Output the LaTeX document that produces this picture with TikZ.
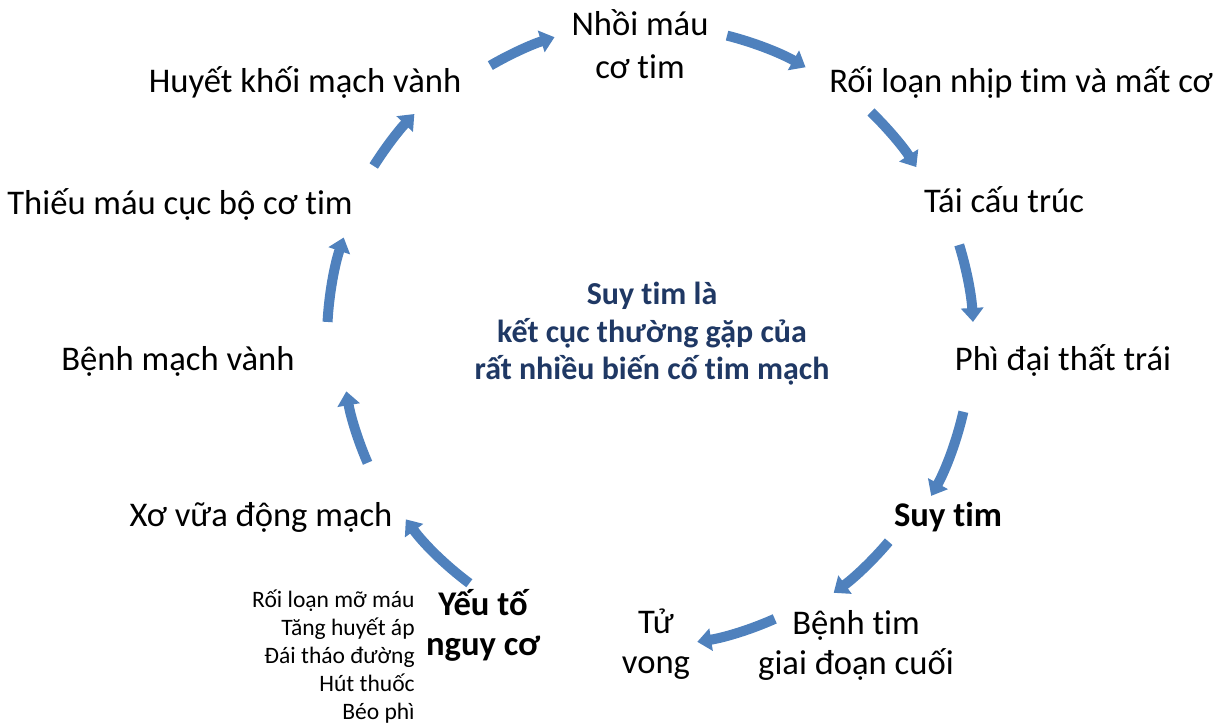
\documentclass[tikz,border=0pt]{standalone}
\usepackage{fontspec}
\setmainfont{Carlito}[Ligatures={NoCommon}]
\usetikzlibrary{arrows.meta}
\definecolor{arrowblue}{RGB}{79,129,189}
\definecolor{centerblue}{RGB}{31,56,100}
\newcommand{\mainsize}{\fontsize{19.7pt}{23pt}\selectfont}
\newcommand{\smallsize}{\fontsize{13.4pt}{16pt}\selectfont}
\newcommand{\centersize}{\fontsize{18.2pt}{21.3pt}\selectfont}
\begin{document}
\begin{tikzpicture}[x=0.02cm,y=0.02cm,
  lbl/.style={anchor=base,inner sep=0pt,outer sep=0pt,font=\mainsize,text=black},
  boldlbl/.style={lbl,font=\mainsize\bfseries},
  risklist/.style={anchor=base east,inner sep=0pt,font=\smallsize,text=black},
  centerlbl/.style={anchor=base,inner sep=0pt,font=\centersize\bfseries,text=centerblue},
  cyc/.style={draw=arrowblue,line width=0.2cm,-{Triangle[width=0.44cm,length=0.28cm]}}]
\useasboundingbox (0,0) rectangle (1223,727);
\def\arraystretch{1}
\coordinate (C) at (650,387);
% labels
\node[lbl] (nhoi) at (640,691) {\begin{tabular}[t]{@{}c@{}}Nhồi máu\\[1.2pt]cơ tim\end{tabular}};
\node[lbl] (roiloan) at (1021,634) {Rối loạn nhịp tim và mất cơ};
\node[lbl] (taicau) at (1004,514) {Tái cấu trúc};
\node[lbl] (phidai) at (1063,356) {Phì đại thất trái};
\node[boldlbl] (suytim) at (948,200) {Suy tim};
\node[lbl] (benhtim) at (856,93) {\begin{tabular}[t]{@{}c@{}}Bệnh tim\\giai đoạn cuối\end{tabular}};
\node[lbl] (tuvong) at (656,94) {\begin{tabular}[t]{@{}c@{}}Tử\\vong\end{tabular}};
\node[boldlbl] (yeuto) at (483,112) {\begin{tabular}[t]{@{}c@{}}Yếu tố\\nguy cơ\end{tabular}};
\node[risklist] (list) at (415,120) {\begin{tabular}[t]{@{}r@{}}Rối loạn mỡ máu\\Tăng huyết áp\\Đái tháo đường\\Hút thuốc\\Béo phì\end{tabular}};
\node[lbl] (xovua) at (261,200) {Xơ vữa động mạch};
\node[lbl] (benhmach) at (178,356) {Bệnh mạch vành};
\node[lbl] (thieumau) at (180,512) {Thiếu máu cục bộ cơ tim};
\node[lbl] (huyetkhoi) at (305,634) {Huyết khối mạch vành};
\node[centerlbl] (center) at (652,422) {\begin{tabular}[t]{@{}c@{}}Suy tim là\\kết cục thường gặp của\\rất nhiều biến cố tim mạch\end{tabular}};
% cycle arrows
\draw[cyc] ([shift={(120.2:317.5)}]C) coordinate (s1) arc[start angle=120.2, end angle=107.5, radius=317.5] coordinate (e1);
\draw[cyc] ([shift={(75.8:314)}]C) coordinate (s2) arc[start angle=75.8, end angle=60.3, radius=314] coordinate (e2);
\draw[cyc] ([shift={(45.9:317.5)}]C) coordinate (s3) arc[start angle=45.9, end angle=33.0, radius=317.5] coordinate (e3);
\draw[cyc] ([shift={(17.1:323.5)}]C) coordinate (s4) arc[start angle=17.1, end angle=3.2, radius=323.5] coordinate (e4);
\draw[cyc] ([shift={(-12.9:321.5)}]C) coordinate (s5) arc[start angle=-12.9, end angle=-29.0, radius=321.5] coordinate (e5);
\draw[cyc] ([shift={(-40.2:312.5)}]C) coordinate (s6) arc[start angle=-40.2, end angle=-54.0, radius=312.5] coordinate (e6);
\draw[cyc] ([shift={(-65.9:305.5)}]C) coordinate (s7) arc[start angle=-65.9, end angle=-81.1, radius=305.5] coordinate (e7);
\draw[cyc] ([shift={(-126.6:303)}]C) coordinate (s8) arc[start angle=-126.6, end angle=-143.7, radius=303] coordinate (e8);
\draw[cyc] ([shift={(-156.5:308)}]C) coordinate (s9) arc[start angle=-156.5, end angle=-170.4, radius=308] coordinate (e9);
\draw[cyc] ([shift={(-183.2:323)}]C) coordinate (s10) arc[start angle=-183.2, end angle=-198.5, radius=323] coordinate (e10);
\draw[cyc] ([shift={(-212.2:326.5)}]C) coordinate (s11) arc[start angle=-212.2, end angle=-223.8, radius=326.5] coordinate (e11);
\end{tikzpicture}
\end{document}
